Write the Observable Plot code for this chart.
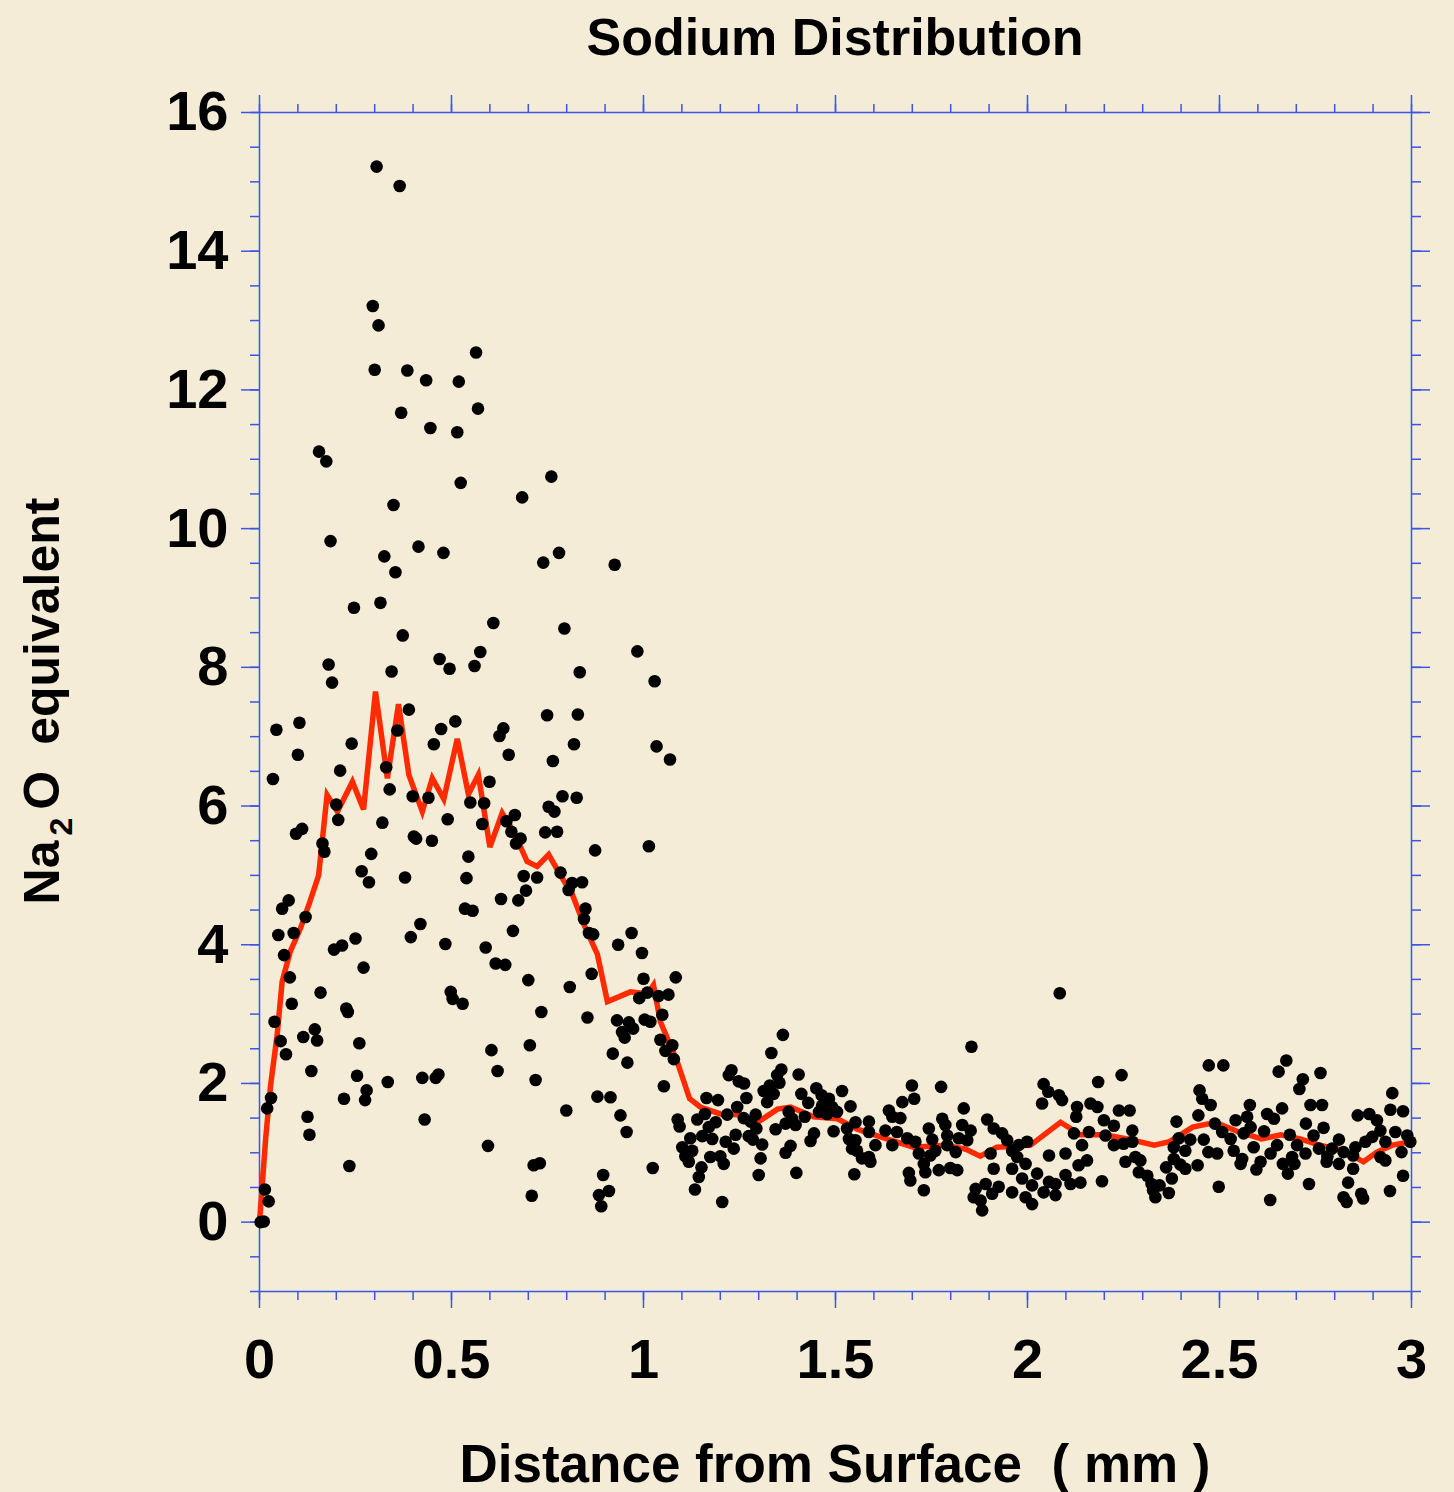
<!DOCTYPE html>
<html>
<head>
<meta charset="utf-8">
<script src="https://cdn.jsdelivr.net/npm/d3@7"></script>
<script src="https://cdn.jsdelivr.net/npm/@observablehq/plot@0.6"></script>
<style>
html, body { margin: 0; padding: 0; background: #f4ecd6; }
#chart svg { display: block; }
</style>
</head>
<body>
<div id="chart"></div>
<script>
// ---------- text ----------
const titleText = "Sodium Distribution";
const xLabelText = "Distance from Surface  ( mm )";
const yLabelParts = ["Na", "2", "O", "equivalent"];

// ---------- ticks ----------
const xMajorTicks = [0, 0.5, 1, 1.5, 2, 2.5, 3];
const xMinorTicks = d3.range(0, 3.0001, 0.1);
const yMajorTicks = [0, 2, 4, 6, 8, 10, 12, 14, 16];
const yMinorTicks = d3.range(-1, 16.0001, 0.5);

// ---------- measured points: [distance mm, Na2O equivalent] ----------
const samplesNearSurface = [
[0.305,15.22],[0.365,14.94],[0.295,13.21],[0.31,12.93],[0.564,12.54],[0.3,12.29],[0.385,12.28],[0.434,12.14],[0.519,12.12],[0.569,11.73],[0.369,11.67],[0.445,11.45],[0.515,11.39],[0.155,11.11],[0.174,10.97],[0.524,10.66],[0.76,10.75],[0.684,10.45],[0.349,10.34],[0.185,9.82],[0.325,9.6],[0.414,9.74],[0.479,9.65],[0.354,9.37],[0.739,9.51],[0.78,9.65],[0.925,9.48],
[0.246,8.86],[0.315,8.93],[0.609,8.64],[0.794,8.56],[0.373,8.46],[0.469,8.12],[0.495,7.98],[0.575,8.22],[0.56,8.02],[0.18,8.04],[0.189,7.78],[0.344,7.94],[0.984,8.23],[0.834,7.93],[1.029,7.8],[0.389,7.39],[0.749,7.31],[0.829,7.32],[0.044,7.1],[0.104,7.2],[0.1,6.74],[0.359,7.09],[0.473,7.11],[0.51,7.22],[0.635,7.12],[0.625,7.01],[0.649,6.74],[1.034,6.86],[1.069,6.67],[0.24,6.9],[0.454,6.89],[0.764,6.65],[0.819,6.89],[0.035,6.39],[0.21,6.51],[0.33,6.56],[0.339,6.24],[0.599,6.35],[0.399,6.14],[0.44,6.12],[0.549,6.05],[0.585,6.04],[0.789,6.14],[0.826,6.12],[0.2,6.02],[0.205,5.8],[0.32,5.76],[0.49,5.81],[0.58,5.74],[0.665,5.87],[0.643,5.78],[0.753,5.99],[0.768,5.92],[0.095,5.6],[0.111,5.67],[0.656,5.63],[0.68,5.53],[0.668,5.46],[0.744,5.62],[0.775,5.63],[0.402,5.56],[0.408,5.53],[0.449,5.5],[0.164,5.46],[0.169,5.34],[1.014,5.42],[0.874,5.36],[0.291,5.31],[0.544,5.27],[0.266,5.06],[0.285,4.9],[0.379,4.97],[0.539,4.96],[0.688,4.99],[0.723,4.97],[0.784,5.04],[0.694,4.78],[0.805,4.79],[0.84,4.9],[0.814,4.89],[0.629,4.66],[0.674,4.64],[0.076,4.64],[0.059,4.52],[0.12,4.4],[0.849,4.52],[0.845,4.37],[0.535,4.52],[0.555,4.49],[0.419,4.3],[0.858,4.17],[0.869,4.15],[0.049,4.14],[0.089,4.17],[0.969,4.17],[0.66,4.2],[0.25,4.09],[0.394,4.11],[0.934,4.0],[0.484,4.01],[0.215,3.99],[0.194,3.93],[0.064,3.85],[0.589,3.96],[0.996,3.88],[0.615,3.73],[0.64,3.71],[0.271,3.67],[0.079,3.53],[0.865,3.58],[1.0,3.51],[1.084,3.53],[0.7,3.49],
[0.808,3.39],[0.159,3.31],[0.084,3.15],[0.498,3.32],[0.503,3.22],[0.529,3.15],[0.734,3.03],[0.854,2.95],[0.931,2.91],[0.962,2.88],[1.003,2.92],[1.018,2.89],[0.989,3.23],[1.01,3.31],[1.039,3.26],[1.065,3.28],[1.049,2.99],[0.973,2.79],[0.944,2.74],[0.951,2.66],[1.044,2.63],[1.075,2.55],[1.057,2.47],[1.079,2.35],[0.92,2.43],[0.958,2.3],[1.053,1.96],[0.039,2.89],[0.055,2.61],[0.069,2.42],[0.114,2.67],[0.144,2.78],[0.15,2.62],[0.226,3.08],[0.23,3.03],[0.26,2.58],[0.135,2.18],[0.254,2.11],[0.279,1.9],[0.275,1.76],[0.22,1.78],[0.334,2.02],[0.424,2.08],[0.459,2.08],[0.466,2.13],[0.604,2.48],[0.62,2.18],[0.704,2.55],[0.719,2.05],[0.88,1.81],[0.914,1.8],[0.799,1.61],[0.94,1.54],[0.956,1.3],[1.024,0.78],[0.03,1.79],[0.02,1.64],[0.125,1.52],[0.13,1.26],[0.43,1.48],[0.595,1.1],[0.234,0.81],[0.714,0.82],[0.73,0.85],[0.709,0.38],[0.895,0.68],[0.884,0.39],[0.91,0.45],[0.89,0.23],[0.014,0.47],[0.024,0.3],[0.003,0.0],[0.011,0.01],[1.089,1.48],[1.094,1.38]
];
const samplesMiddle = [
[1.363,2.70],[1.333,2.44],[1.229,2.19],[1.222,2.12],[1.359,2.2],[1.348,2.12],[1.404,2.13],[1.248,2.03],[1.262,2.0],[1.354,2.01],[1.329,1.97],[1.313,1.89],[1.339,1.85],[1.322,1.73],[1.45,1.93],[1.411,1.85],[1.464,1.83],[1.483,1.78],[1.517,1.89],[1.164,1.79],[1.194,1.76],[1.268,1.79],[1.429,1.72],[1.539,1.67],[1.244,1.66],[1.465,1.68],[1.491,1.66],[1.504,1.59],[1.478,1.56],[1.457,1.59],[1.16,1.56],[1.218,1.55],[1.292,1.55],[1.378,1.59],[1.387,1.49],[1.42,1.52],[1.14,1.48],[1.188,1.44],[1.261,1.5],[1.279,1.45],[1.37,1.42],[1.396,1.40],[1.552,1.44],[1.17,1.37],[1.294,1.35],[1.344,1.34],[1.495,1.31],[1.53,1.35],[1.24,1.26],[1.444,1.28],[1.153,1.24],[1.274,1.24],[1.122,1.21],[1.179,1.2],[1.214,1.16],[1.535,1.2],[1.552,1.18],[1.309,1.12],[1.285,1.19],[1.435,1.17],[1.101,1.08],[1.127,1.03],[1.383,1.1],[1.235,1.06],[1.543,1.06],[1.37,1.0],[1.556,1.03],[1.109,0.95],[1.174,0.94],[1.2,0.95],[1.305,0.92],[1.569,0.92],[1.118,0.87],[1.209,0.84],[1.151,0.79],[1.144,0.65],[1.3,0.68],[1.398,0.71],[1.549,0.69],[1.134,0.47],[1.205,0.29],
[1.854,2.53],[1.699,1.97],[1.775,1.95],[1.705,1.78],[1.674,1.73],[1.639,1.61],[1.648,1.52],[1.669,1.5],[1.834,1.64],[2.042,1.99],[2.054,1.88],[2.038,1.71],[1.587,1.45],[1.778,1.49],[1.786,1.4],[1.895,1.48],[1.83,1.4],[1.852,1.32],[1.743,1.35],[1.912,1.35],[1.934,1.28],[1.63,1.32],[1.66,1.3],[1.587,1.3],[1.791,1.25],[1.821,1.21],[1.752,1.19],[1.708,1.16],[1.687,1.21],[1.843,1.18],[1.947,1.18],[1.999,1.16],[1.977,1.11],[1.604,1.11],[1.648,1.11],[1.791,1.11],[1.76,1.03],[1.813,1.01],[1.717,0.99],[1.747,0.96],[1.96,1.03],[1.904,0.99],[1.587,0.94],[1.973,0.94],[2.056,0.96],[1.591,0.87],[1.73,0.84],[1.995,0.84],[1.912,0.77],[1.96,0.77],[1.769,0.75],[1.799,0.78],[1.817,0.75],[1.691,0.71],[1.734,0.72],[2.025,0.7],[1.986,0.63],[1.695,0.6],[1.891,0.55],[1.925,0.51],[2.012,0.53],[2.056,0.58],[1.73,0.46],[1.865,0.48],[1.96,0.43],[2.042,0.43],[1.86,0.36],[1.878,0.31],[1.908,0.41],[1.995,0.36],[2.012,0.26],[1.882,0.17],[2.084,3.3]
];
const samplesDeep = [
[2.472,2.26],[2.51,2.26],[2.245,2.12],[2.184,2.02],[2.448,1.9],[2.455,1.78],[2.477,1.69],[2.082,1.83],[2.09,1.76],[2.164,1.71],[2.182,1.66],[2.129,1.66],[2.127,1.52],[2.238,1.61],[2.266,1.61],[2.445,1.54],[2.199,1.47],[2.388,1.45],[2.488,1.42],[2.542,1.47],[2.225,1.39],[2.273,1.32],[2.121,1.28],[2.16,1.3],[2.203,1.25],[2.507,1.3],[2.394,1.21],[2.424,1.19],[2.459,1.19],[2.529,1.2],[2.142,1.11],[2.225,1.11],[2.25,1.13],[2.273,1.16],[2.381,1.08],[2.411,1.03],[2.471,1.01],[2.494,0.99],[2.537,1.03],[2.099,0.99],[2.281,0.94],[2.381,0.91],[2.559,0.91],[2.155,0.89],[2.255,0.87],[2.294,0.89],[2.133,0.82],[2.398,0.83],[2.443,0.82],[2.555,0.84],[2.29,0.72],[2.361,0.79],[2.411,0.77],[2.099,0.68],[2.312,0.67],[2.376,0.63],[2.112,0.55],[2.138,0.57],[2.194,0.59],[2.073,0.55],[2.323,0.55],[2.344,0.53],[2.498,0.51],[2.327,0.46],[2.368,0.42],[2.333,0.36],[2.073,0.39],
[2.674,2.33],[2.654,2.17],[2.763,2.15],[2.717,2.06],[2.708,1.92],[2.95,1.86],[2.945,1.62],[2.978,1.6],[2.579,1.69],[2.737,1.69],[2.767,1.69],[2.663,1.64],[2.624,1.56],[2.642,1.49],[2.86,1.54],[2.89,1.56],[2.91,1.47],[2.572,1.52],[2.725,1.42],[2.771,1.36],[2.616,1.31],[2.581,1.37],[2.919,1.32],[2.958,1.3],[2.989,1.25],[2.563,1.28],[2.683,1.26],[2.745,1.25],[2.811,1.19],[2.898,1.23],[2.932,1.16],[2.997,1.16],[2.589,1.08],[2.65,1.11],[2.702,1.11],[2.759,1.06],[2.793,1.06],[2.854,1.08],[2.88,1.16],[2.633,0.99],[2.724,0.99],[2.781,0.95],[2.823,1.01],[2.974,1.01],[2.689,0.94],[2.848,0.96],[2.919,0.94],[2.607,0.87],[2.665,0.84],[2.695,0.84],[2.779,0.87],[2.811,0.84],[2.932,0.89],[2.848,0.77],[2.596,0.76],[2.678,0.7],[2.978,0.67],[2.733,0.55],[2.835,0.57],[2.944,0.45],[2.632,0.32],[2.823,0.36],[2.831,0.29],[2.869,0.41],[2.874,0.34]
];

// ---------- running average (red line) ----------
const avgMm   = [0, 0.016, 0.029, 0.046, 0.059, 0.08, 0.107, 0.13, 0.154, 0.176, 0.203, 0.242, 0.271, 0.302, 0.333, 0.362, 0.389, 0.424, 0.45, 0.48, 0.515, 0.544, 0.57, 0.6, 0.632, 0.662, 0.697, 0.723, 0.753, 0.784, 0.815, 0.845, 0.88, 0.906, 0.966, 1.01, 1.026, 1.044, 1.088, 1.12, 1.148, 1.2, 1.25, 1.297, 1.349, 1.383, 1.443, 1.505, 1.557, 1.617, 1.703, 1.79, 1.84, 1.877, 1.92, 2.008, 2.086, 2.138, 2.2, 2.26, 2.33, 2.37, 2.43, 2.49, 2.55, 2.61, 2.66, 2.71, 2.76, 2.82, 2.875, 2.91, 2.95, 3.0];
const avgNa2O = [0, 1.2, 1.98, 2.7, 3.47, 3.9, 4.24, 4.6, 5.0, 6.16, 5.92, 6.35, 5.95, 7.65, 6.4, 7.47, 6.45, 5.92, 6.4, 6.1, 6.97, 6.17, 6.45, 5.41, 5.9, 5.63, 5.2, 5.13, 5.3, 5.0, 4.72, 4.29, 3.86, 3.18, 3.32, 3.29, 3.42, 2.89, 2.31, 1.78, 1.66, 1.56, 1.55, 1.44, 1.63, 1.66, 1.52, 1.49, 1.34, 1.23, 1.08, 1.11, 1.05, 0.95, 1.08, 1.11, 1.44, 1.26, 1.26, 1.2, 1.11, 1.16, 1.37, 1.44, 1.3, 1.2, 1.26, 1.2, 1.11, 1.04, 0.87, 1.01, 1.11, 1.16];

// ---------- build tables ----------
const samples = [...samplesNearSurface, ...samplesMiddle, ...samplesDeep].map(([x, y]) => ({x, y}));
const avgLine = avgMm.map((x, i) => ({x, y: avgNa2O[i]}));

const blue = "#3d55e6";
const red = "#ff2a00";
const font = "'Liberation Sans', Arial, sans-serif";
const fmt = d => `${d}`;

const chart = Plot.plot({
  width: 1454,
  height: 1492,
  marginLeft: 259,
  marginRight: 43,
  marginTop: 112,
  marginBottom: 201,
  style: {background: "transparent", fontFamily: font, overflow: "visible"},
  x: {domain: [0, 3], label: null},
  y: {domain: [-1, 16], label: null},
  marks: [
    Plot.frame({stroke: blue, strokeWidth: 1.5}),
    // bottom
    Plot.axisX({anchor: "bottom", ticks: xMinorTicks, tickSize: 9, stroke: blue, strokeWidth: 1.5, fill: "none", label: null}),
    Plot.axisX({anchor: "bottom", ticks: xMajorTicks, tickSize: 17, stroke: blue, strokeWidth: 1.5, fill: "none", label: null}),
    Plot.axisX({anchor: "bottom", ticks: xMajorTicks, tickSize: 0, tickPadding: 47, tickFormat: fmt, fontSize: 56, fontWeight: "bold", fill: "black", label: null}),
    // top
    Plot.axisX({anchor: "top", ticks: xMinorTicks, tickSize: 9, stroke: blue, strokeWidth: 1.5, fill: "none", label: null}),
    Plot.axisX({anchor: "top", ticks: xMajorTicks, tickSize: 18, stroke: blue, strokeWidth: 1.5, fill: "none", label: null}),
    // left
    Plot.axisY({anchor: "left", ticks: yMinorTicks, tickSize: 9, stroke: blue, strokeWidth: 1.5, fill: "none", label: null}),
    Plot.axisY({anchor: "left", ticks: yMajorTicks, tickSize: 18, stroke: blue, strokeWidth: 1.5, fill: "none", label: null}),
    Plot.axisY({anchor: "left", ticks: yMajorTicks, tickSize: 0, tickPadding: 31, tickFormat: fmt, fontSize: 56, fontWeight: "bold", fill: "black", label: null}),
    // right
    Plot.axisY({anchor: "right", ticks: yMinorTicks, tickSize: 9, stroke: blue, strokeWidth: 1.5, fill: "none", label: null}),
    Plot.axisY({anchor: "right", ticks: yMajorTicks, tickSize: 18, stroke: blue, strokeWidth: 1.5, fill: "none", label: null}),
    // data
    Plot.line(avgLine, {x: "x", y: "y", stroke: red, strokeWidth: 5.5, strokeLinejoin: "miter", strokeMiterlimit: 4}),
    Plot.dot(samples, {x: "x", y: "y", r: 6.3, fill: "black", stroke: "none"})
  ]
});

document.getElementById("chart").appendChild(chart);

// ---------- titles ----------
const svg = d3.select(chart);
const cx = (259 + 1411) / 2;
svg.append("text")
  .attr("x", cx).attr("y", 55)
  .attr("text-anchor", "middle")
  .attr("font-family", font).attr("font-size", 52).attr("font-weight", "bold")
  .attr("fill", "black")
  .text(titleText);

svg.append("text")
  .attr("x", cx).attr("y", 1482)
  .attr("text-anchor", "middle")
  .attr("font-family", font).attr("font-size", 53).attr("font-weight", "bold")
  .attr("fill", "black")
  .style("white-space", "pre")
  .text(xLabelText);

const yl = svg.append("text")
  .attr("transform", `translate(59, 701) rotate(-90)`)
  .attr("text-anchor", "middle")
  .attr("font-family", font).attr("font-size", 50).attr("font-weight", "bold")
  .attr("fill", "black");
yl.append("tspan").text(yLabelParts[0]);
yl.append("tspan").attr("dx", 5).attr("dy", 13).attr("font-size", 32).text(yLabelParts[1]);
yl.append("tspan").attr("dx", 8).attr("dy", -13).text(yLabelParts[2]);
yl.append("tspan").attr("dx", 26).text(yLabelParts[3]);
</script>
</body>
</html>
